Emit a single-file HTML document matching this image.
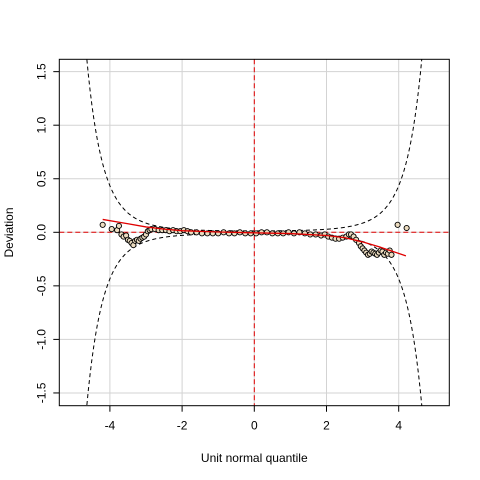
<!DOCTYPE html>
<html><head><meta charset="utf-8"><style>html,body{margin:0;padding:0;width:480px;height:480px;overflow:hidden;background:#fff}svg{display:block;font-family:"Liberation Sans",sans-serif}</style></head>
<body>
<svg id="c" width="480" height="480"></svg>
<script>
const xTicks=[-4,-2,0,2,4];
const yTicks=[-1.5,-1.0,-0.5,0.0,0.5,1.0,1.5];
const yTickLabels=["-1.5","-1.0","-0.5","0.0","0.5","1.0","1.5"];
const ptX=[-4.2,-3.95,-3.8,-3.75,-3.68,-3.62,-3.55,-3.5,-3.45,-3.4,-3.35,-3.3,-3.25,-3.2,-3.15,-3.1,-3.05,-3.0,-2.95,-2.9,-2.85,-2.75,-2.65,-2.55,-2.45,-2.35,-2.25,-2.15,-2.05,-1.95,-1.85,-1.75,-1.6,-1.45,-1.3,-1.15,-1.0,-0.85,-0.7,-0.55,-0.4,-0.25,-0.1,0.05,0.2,0.35,0.5,0.65,0.8,0.95,1.1,1.25,1.4,1.55,1.7,1.85,1.95,2.05,2.15,2.25,2.35,2.45,2.55,2.62,2.68,2.75,2.82,2.9,2.95,3.0,3.05,3.1,3.15,3.2,3.25,3.3,3.35,3.4,3.45,3.5,3.55,3.6,3.65,3.7,3.75,3.8,3.97,4.22];
const ptY=[0.07,0.03,0.02,0.06,-0.02,-0.04,-0.03,-0.07,-0.08,-0.1,-0.12,-0.08,-0.07,-0.08,-0.06,-0.05,-0.04,-0.02,0.01,0.02,0.03,0.03,0.02,0.02,0.02,0.01,0.02,0.01,0.01,0.02,0.01,0.0,0.0,-0.01,-0.01,-0.01,-0.01,0.0,-0.01,-0.01,0.0,-0.01,-0.01,-0.01,0.0,0.0,-0.01,-0.01,-0.01,0.0,-0.01,0.0,-0.01,-0.02,-0.02,-0.03,-0.02,-0.04,-0.05,-0.06,-0.06,-0.05,-0.04,-0.02,-0.02,-0.04,-0.07,-0.1,-0.13,-0.15,-0.17,-0.19,-0.21,-0.2,-0.18,-0.19,-0.2,-0.21,-0.19,-0.17,-0.18,-0.21,-0.19,-0.2,-0.17,-0.21,0.07,0.04];
const fitX=[-4.2,-3.5,-3.0,-2.5,-2.0,-1.0,0,1.0,2.0,2.5,3.0,3.5,4.2];
const fitY=[0.12,0.08,0.05,0.03,0.015,0.003,-0.005,-0.012,-0.03,-0.05,-0.09,-0.14,-0.22];
const nObs=36000;

const NS="http://www.w3.org/2000/svg",svg=document.getElementById('c');
const L=59.3,R=449.3,T=59.3,B=405.7;
const sx=v=>254.3+v*36.1, sy=v=>232.3-v*107.1;
function mk(t,a,p){const e=document.createElementNS(NS,t);for(const k in a)e.setAttribute(k,a[k]);(p||svg).appendChild(e);return e;}
const clip=mk('clipPath',{id:'cl'});mk('rect',{x:L,y:T,width:R-L,height:B-T},clip);
const g=mk('g',{'clip-path':'url(#cl)'});
xTicks.forEach(v=>{const e=mk('line',{x1:sx(v),x2:sx(v),y1:T,y2:B,stroke:'#d3d3d3'},g);});
yTicks.forEach(v=>{const e=mk('line',{x1:L,x2:R,y1:sy(v),y2:sy(v),stroke:'#d3d3d3'},g);});
function pn(z){const t=1/(1+0.2316419*Math.abs(z));const d=Math.exp(-z*z/2)/Math.sqrt(2*Math.PI);const p=d*t*(0.319381530+t*(-0.356563782+t*(1.781477937+t*(-1.821255978+t*1.330274429))));return z>0?1-p:p;}
let up=[],lo=[];
for(let z=-5.4;z<=5.4;z+=0.05){const p=pn(z),d=Math.exp(-z*z/2)/Math.sqrt(2*Math.PI);const s=1.96*Math.sqrt(p*(1-p)/nObs)/d;const c=Math.min(s,1.7);up.push(sx(z)+','+sy(c));lo.push(sx(z)+','+sy(-c));}
let e=mk('polyline',{points:up.join(' '),fill:'none',stroke:'#000','stroke-dasharray':'4,3'},g);
e=mk('polyline',{points:lo.join(' '),fill:'none',stroke:'#000','stroke-dasharray':'4,3'},g);
e=mk('line',{x1:L,x2:R,y1:sy(0),y2:sy(0),stroke:'#e00000','stroke-dasharray':'5,3'},g);
e=mk('line',{x1:sx(0),x2:sx(0),y1:T,y2:B,stroke:'#e00000','stroke-dasharray':'5,3'},g);
ptX.forEach((x,i)=>{const c=mk('circle',{cx:sx(x),cy:sy(ptY[i]),r:2.6,fill:'#ecdcc0',stroke:'#000','stroke-width':0.9},g);});
e=mk('polyline',{points:fitX.map((x,i)=>sx(x)+','+sy(fitY[i])).join(' '),fill:'none',stroke:'#e00000','stroke-width':1.3},g);
e=mk('rect',{x:L,y:T,width:R-L,height:B-T,fill:'none',stroke:'#000'});
xTicks.forEach(v=>{mk('line',{x1:sx(v),x2:sx(v),y1:B,y2:B+6,stroke:'#000'});const t=mk('text',{x:sx(v),y:B+24,'text-anchor':'middle','font-size':12});t.textContent=v;});
yTicks.forEach((v,i)=>{mk('line',{x1:L-6,x2:L,y1:sy(v),y2:sy(v),stroke:'#000'});const t=mk('text',{x:0,y:0,'text-anchor':'middle','font-size':12,transform:`translate(${L-14},${sy(v)}) rotate(-90)`});t.textContent=yTickLabels[i];});
e=mk('text',{x:254.3,y:462,'text-anchor':'middle','font-size':12});e.textContent='Unit normal quantile';
e=mk('text',{x:0,y:0,'text-anchor':'middle','font-size':12,transform:'translate(13,232.5) rotate(-90)'});e.textContent='Deviation';
</script>
</body></html>
